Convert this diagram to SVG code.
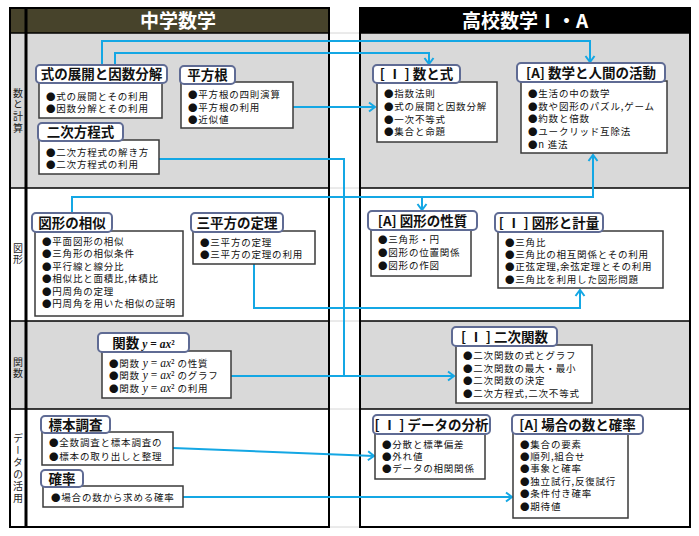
<svg xmlns="http://www.w3.org/2000/svg" width="699" height="536" viewBox="0 0 699 536">
<style>
text{font-family:"Noto Sans CJK JP","Noto Sans",sans-serif;fill:#111}
.hd{font-size:19px;font-weight:700;fill:#fff;text-anchor:middle}
.lb{font-size:10px;fill:#222;writing-mode:vertical-rl;letter-spacing:1.6px}
.tt{font-size:13.5px;font-weight:700;text-anchor:middle}
.it{font-size:9.5px;letter-spacing:0.8px}
.m{font-family:"Liberation Serif",serif;font-style:italic;font-size:11.5px;letter-spacing:0}
.mn{font-family:"Liberation Serif",serif;font-size:11.5px;letter-spacing:0}
.tbox{fill:#fff;stroke:#5f6b94;stroke-width:2}
.cbox{fill:#fff;stroke:#3a3a3a;stroke-width:1.5}
.sep{stroke:#000;stroke-width:1.5}
.faint{stroke:#d6d6d6;stroke-width:1}
.con path{fill:none;stroke:#14a7e4;stroke-width:2}
</style>
<defs>
<marker id="ar" viewBox="-8 -6 10 12" markerWidth="10" markerHeight="12" refX="0" refY="0" orient="auto" markerUnits="userSpaceOnUse">
<path d="M-6,-4.5 L0,0 L-6,4.5" fill="none" stroke="#14a7e4" stroke-width="2"/>
</marker>
</defs>
<rect width="699" height="536" fill="#fff"/>
<g class="faint">
<line x1="330" y1="33" x2="360" y2="33"/>
<line x1="330" y1="188" x2="360" y2="188"/>
<line x1="330" y1="321" x2="360" y2="321"/>
<line x1="330" y1="409" x2="360" y2="409"/>
<line x1="330" y1="527" x2="360" y2="527"/>
</g>
<g id="left-panel">
<rect x="10" y="33" width="319" height="155" fill="#d9d9d9"/>
<rect x="10" y="321" width="319" height="88" fill="#d9d9d9"/>
<rect x="10" y="8" width="319" height="25" fill="#47432b"/>
<line class="sep" x1="10" y1="33" x2="329" y2="33"/>
<line class="sep" x1="10" y1="188" x2="329" y2="188"/>
<line class="sep" x1="10" y1="321" x2="329" y2="321"/>
<line class="sep" x1="10" y1="409" x2="329" y2="409"/>
<line x1="26" y1="8" x2="26" y2="527" stroke="#000" stroke-width="3"/>
<rect x="10" y="8" width="319" height="519" fill="none" stroke="#000" stroke-width="2"/>
<text class="hd" x="178" y="28">中学数学</text>
<text class="lb" x="18" y="88">数と計算</text>
<text class="lb" x="18" y="243">図形</text>
<text class="lb" x="18" y="357">関数</text>
<text class="lb" x="18" y="433" style="letter-spacing:2px">データの活用</text>
</g>
<g id="right-panel">
<rect x="360" y="33" width="330" height="155" fill="#d9d9d9"/>
<rect x="360" y="321" width="330" height="88" fill="#d9d9d9"/>
<rect x="360" y="8" width="330" height="25" fill="#000"/>
<line class="sep" x1="360" y1="33" x2="690" y2="33"/>
<line class="sep" x1="360" y1="188" x2="690" y2="188"/>
<line class="sep" x1="360" y1="321" x2="690" y2="321"/>
<line class="sep" x1="360" y1="409" x2="690" y2="409"/>
<rect x="360" y="8" width="330" height="519" fill="none" stroke="#000" stroke-width="2"/>
<text class="hd" x="525" y="28">高校数学Ⅰ・A</text>
</g>
<g class="con" id="connectors">
<path d="M102,65 V41 H590 V62" marker-end="url(#ar)"/>
<path d="M115,65 V53 H429 V64" marker-end="url(#ar)"/>
<path d="M293,107 H375" marker-end="url(#ar)"/>
<path d="M159,159 H344 V376"/>
<path d="M231,376 H454" marker-end="url(#ar)"/>
<path d="M72,213 V197 H422 V210" marker-end="url(#ar)"/>
<path d="M422,197 H593 V155" marker-end="url(#ar)"/>
<path d="M254,264 V308 H580 V290" marker-end="url(#ar)"/>
<path d="M173,448 L374,456" marker-end="url(#ar)"/>
<path d="M183,497 H512" marker-end="url(#ar)"/>
</g>
<g id="node-shiki-tenkai">
<rect class="cbox" x="39" y="82" width="123" height="36"/>
<rect class="tbox" x="36" y="65" width="131" height="18" rx="4"/>
<text class="tt" x="101.5" y="79">式の展開と因数分解</text>
<text class="it" x="46" y="100">●式の展開とその利用</text>
<text class="it" x="46" y="112">●因数分解とその利用</text>
</g>
<g id="node-heihokon">
<rect class="cbox" x="181" y="82" width="112" height="46"/>
<rect class="tbox" x="180" y="66" width="55" height="18" rx="4"/>
<text class="tt" x="207.5" y="80">平方根</text>
<text class="it" x="188" y="97.5">●平方根の四則演算</text>
<text class="it" x="188" y="110.5">●平方根の利用</text>
<text class="it" x="188" y="122.5">●近似値</text>
</g>
<g id="node-nijihoteishiki">
<rect class="cbox" x="39" y="140" width="120" height="34"/>
<rect class="tbox" x="38" y="123" width="85" height="18" rx="4"/>
<text class="tt" x="80.5" y="137">二次方程式</text>
<text class="it" x="46" y="155.5">●二次方程式の解き方</text>
<text class="it" x="46" y="167.5">●二次方程式の利用</text>
</g>
<g id="node-kazutoshiki">
<rect class="cbox" x="377" y="82" width="120" height="60"/>
<rect class="tbox" x="373" y="65" width="87" height="18" rx="4"/>
<text class="tt" x="416.5" y="79">[ Ⅰ ] 数と式</text>
<text class="it" x="384" y="96.5">●指数法則</text>
<text class="it" x="384" y="109.5">●式の展開と因数分解</text>
<text class="it" x="384" y="122.5">●一次不等式</text>
<text class="it" x="384" y="134.5">●集合と命題</text>
</g>
<g id="node-ningen">
<rect class="cbox" x="521" y="81" width="146" height="72"/>
<rect class="tbox" x="517" y="63" width="148" height="19" rx="4"/>
<text class="tt" x="591" y="77.5">[A] 数学と人間の活動</text>
<text class="it" x="528" y="96.5">●生活の中の数学</text>
<text class="it" x="528" y="109.5">●数や図形のパズル,ゲーム</text>
<text class="it" x="528" y="121.5">●約数と倍数</text>
<text class="it" x="528" y="134.5">●ユークリッド互除法</text>
<text class="it" x="528" y="147.5">●n 進法</text>
</g>
<g id="node-soji">
<rect class="cbox" x="35" y="231" width="148" height="85"/>
<rect class="tbox" x="32" y="213" width="80" height="19" rx="4"/>
<text class="tt" x="72" y="227.5">図形の相似</text>
<text class="it" x="42" y="244.5">●平面図形の相似</text>
<text class="it" x="42" y="257">●三角形の相似条件</text>
<text class="it" x="42" y="269.5">●平行線と線分比</text>
<text class="it" x="42" y="282">●相似比と面積比,体積比</text>
<text class="it" x="42" y="294.5">●円周角の定理</text>
<text class="it" x="42" y="307">●円周角を用いた相似の証明</text>
</g>
<g id="node-sanheiho">
<rect class="cbox" x="193" y="231" width="122" height="33"/>
<rect class="tbox" x="191" y="213" width="92" height="19" rx="4"/>
<text class="tt" x="237" y="227.5">三平方の定理</text>
<text class="it" x="200" y="245.5">●三平方の定理</text>
<text class="it" x="200" y="257.5">●三平方の定理の利用</text>
</g>
<g id="node-zukeiseishitsu">
<rect class="cbox" x="371" y="228" width="100" height="48"/>
<rect class="tbox" x="368" y="211" width="109" height="19" rx="4"/>
<text class="tt" x="422.5" y="225.5">[A] 図形の性質</text>
<text class="it" x="378" y="242.5">●三角形・円</text>
<text class="it" x="378" y="256">●図形の位置関係</text>
<text class="it" x="378" y="269">●図形の作図</text>
</g>
<g id="node-keiryo">
<rect class="cbox" x="498" y="231" width="165" height="57"/>
<rect class="tbox" x="495" y="213" width="108" height="19" rx="4"/>
<text class="tt" x="549" y="227.5">[ Ⅰ ] 図形と計量</text>
<text class="it" x="505" y="245.5">●三角比</text>
<text class="it" x="505" y="257.5">●三角比の相互関係とその利用</text>
<text class="it" x="505" y="269.5">●正弦定理,余弦定理とその利用</text>
<text class="it" x="505" y="282.5">●三角比を利用した図形問題</text>
</g>
<g id="node-kansu">
<rect class="cbox" x="102" y="351" width="129" height="47"/>
<rect class="tbox" x="98" y="333" width="91" height="19" rx="4"/>
<text class="tt" x="143.5" y="347.5">関数 <tspan class="m" font-weight="700" font-size="14px">y</tspan><tspan class="mn" font-weight="700" font-size="14px"> = </tspan><tspan class="m" font-weight="700" font-size="14px">ax</tspan><tspan class="mn" font-weight="700" font-size="14px">²</tspan></text>
<text class="it" x="109" y="366.5">●関数 <tspan class="m">y</tspan><tspan class="mn"> = </tspan><tspan class="m">ax</tspan><tspan class="mn">²</tspan> の性質</text>
<text class="it" x="109" y="378.5">●関数 <tspan class="m">y</tspan><tspan class="mn"> = </tspan><tspan class="m">ax</tspan><tspan class="mn">²</tspan> のグラフ</text>
<text class="it" x="109" y="391.5">●関数 <tspan class="m">y</tspan><tspan class="mn"> = </tspan><tspan class="m">ax</tspan><tspan class="mn">²</tspan> の利用</text>
</g>
<g id="node-nijikansu">
<rect class="cbox" x="456" y="345" width="136" height="58"/>
<rect class="tbox" x="452" y="327" width="105" height="19" rx="4"/>
<text class="tt" x="504.5" y="341.5">[ Ⅰ ] 二次関数</text>
<text class="it" x="463" y="358.5">●二次関数の式とグラフ</text>
<text class="it" x="463" y="371.5">●二次関数の最大・最小</text>
<text class="it" x="463" y="383.5">●二次関数の決定</text>
<text class="it" x="463" y="396.5">●二次方程式,二次不等式</text>
</g>
<g id="node-hyohon">
<rect class="cbox" x="42" y="432" width="131" height="33"/>
<rect class="tbox" x="41" y="416" width="69" height="17" rx="4"/>
<text class="tt" x="75.5" y="429.5">標本調査</text>
<text class="it" x="49" y="445.5">●全数調査と標本調査の</text>
<text class="it" x="49" y="459.5">●標本の取り出しと整理</text>
</g>
<g id="node-kakuritsu">
<rect class="cbox" x="43" y="486" width="140" height="21"/>
<rect class="tbox" x="41" y="470" width="42" height="17" rx="4"/>
<text class="tt" x="62" y="483.5">確率</text>
<text class="it" x="51" y="500.5">●場合の数から求める確率</text>
</g>
<g id="node-data">
<rect class="cbox" x="375" y="432" width="110" height="47"/>
<rect class="tbox" x="373" y="415" width="117" height="19" rx="4"/>
<text class="tt" x="431.5" y="429.5">[ Ⅰ ] データの分析</text>
<text class="it" x="382" y="447.5">●分散と標準偏差</text>
<text class="it" x="382" y="459.5">●外れ値</text>
<text class="it" x="382" y="471.5">●データの相関関係</text>
</g>
<g id="node-baai">
<rect class="cbox" x="513" y="432" width="115" height="86"/>
<rect class="tbox" x="512" y="415" width="131" height="19" rx="4"/>
<text class="tt" x="577.5" y="429.5">[A] 場合の数と確率</text>
<text class="it" x="520" y="447.5">●集合の要素</text>
<text class="it" x="520" y="459.5">●順列,組合せ</text>
<text class="it" x="520" y="471.5">●事象と確率</text>
<text class="it" x="520" y="484.5">●独立試行,反復試行</text>
<text class="it" x="520" y="496.5">●条件付き確率</text>
<text class="it" x="520" y="509.5">●期待値</text>
</g>
</svg>
